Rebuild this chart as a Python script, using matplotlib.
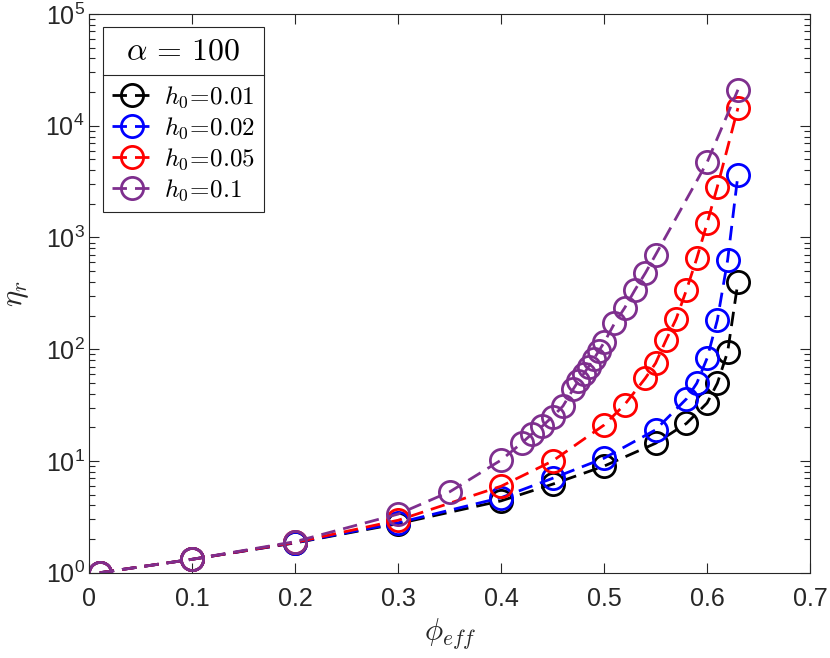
import numpy as np
import matplotlib
matplotlib.use('Agg')
import matplotlib.pyplot as plt
from matplotlib.ticker import FuncFormatter, LogLocator, NullFormatter
from matplotlib.lines import Line2D

plt.rcParams['font.family'] = ['Liberation Sans', 'DejaVu Sans']
plt.rcParams['mathtext.fontset'] = 'cm'

# h0 = 0.01
phi_001 = [0.01, 0.1, 0.2, 0.3, 0.4, 0.45, 0.5, 0.55, 0.58, 0.6, 0.61, 0.62, 0.63]
eta_001 = [1.0, 1.32, 1.85, 2.75, 4.4, 6.2, 9.0, 14.4, 21.7, 33, 49.6, 95, 400]
# h0 = 0.02
phi_002 = [0.01, 0.1, 0.2, 0.3, 0.4, 0.45, 0.5, 0.55, 0.58, 0.59, 0.6, 0.61, 0.62, 0.63]
eta_002 = [1.0, 1.32, 1.86, 2.8, 4.7, 7.0, 10.6, 19, 36, 49.6, 83, 183, 630, 3640]
# h0 = 0.05
phi_005 = [0.01, 0.1, 0.2, 0.3, 0.4, 0.45, 0.5, 0.52, 0.54, 0.55, 0.56, 0.57, 0.58,
           0.59, 0.6, 0.61, 0.63]
eta_005 = [1.0, 1.32, 1.87, 2.95, 5.95, 10.0, 21, 32, 55, 75, 120, 187, 340,
           650, 1340, 2850, 14400]
# h0 = 0.1
phi_01 = [0.01, 0.1, 0.2, 0.3, 0.35, 0.4, 0.42, 0.43, 0.44, 0.45, 0.46, 0.47, 0.475,
          0.48, 0.485, 0.49, 0.495, 0.5, 0.51, 0.52, 0.53, 0.54, 0.55, 0.6, 0.63]
eta_01 = [1.0, 1.32, 1.9, 3.35, 5.3, 10.2, 14.5, 17.5, 20.5, 25, 31, 44, 52,
          60, 70, 82, 97, 115, 170, 235, 340, 480, 700, 4700, 21000]

series = [
    (phi_001, eta_001, 'k', r'$h_0\!=\!0.01$'),
    (phi_002, eta_002, 'b', r'$h_0\!=\!0.02$'),
    (phi_005, eta_005, 'r', r'$h_0\!=\!0.05$'),
    (phi_01, eta_01, '#7E2F8E', r'$h_0\!=\!0.1$'),
]

fig = plt.figure(figsize=(8.3, 6.58), dpi=100)
ax = fig.add_axes([0.1078, 0.1296, 0.8681, 0.8491])

for phi, eta, col, lab in series:
    ax.plot(phi, eta, linestyle=(0, (5.2, 2.9)), color=col, lw=2.0,
            marker='o', ms=16, mfc='none', mec=col, mew=2.0, label=lab)

ax.set_yscale('log')
ax.set_xlim(0, 0.7)
ax.set_ylim(1, 1e5)
ax.set_xticks(np.arange(0, 0.71, 0.1))
ax.set_xticklabels(['0', '0.1', '0.2', '0.3', '0.4', '0.5', '0.6', '0.7'])
ax.yaxis.set_major_locator(LogLocator(base=10, numticks=10))
ax.yaxis.set_minor_locator(LogLocator(base=10, subs=np.arange(2, 10), numticks=20))
ax.yaxis.set_minor_formatter(NullFormatter())
ax.yaxis.set_major_formatter(FuncFormatter(lambda v, p: r'$\mathregular{10^{%d}}$' % round(np.log10(v))))

ax.tick_params(which='both', direction='in', top=True, right=True, colors='#262626',
               labelcolor='#262626', labelsize=18)
ax.tick_params(which='major', length=7, width=0.8)
ax.tick_params(which='minor', length=4, width=0.8)
ax.tick_params(axis='x', pad=10)
for s in ax.spines.values():
    s.set_color('#262626')
    s.set_linewidth(0.8)

ax.set_xlabel(r'$\phi_{eff}$', fontsize=22, color='#262626')
ax.set_ylabel(r'$\eta_r$', fontsize=22, color='#262626', labelpad=10)

leg = ax.legend(loc='upper left', bbox_to_anchor=(0.0187, 0.976), borderaxespad=0,
                title=r'$\alpha\,=\,100$', title_fontsize=23, fontsize=18,
                fancybox=False, edgecolor='#262626', framealpha=1,
                handlelength=1.6, handletextpad=0.5, labelspacing=0.22,
                borderpad=0.35)
leg.get_frame().set_linewidth(0.8)
leg._legend_box.sep = 13

# separator line under legend title
fig.canvas.draw()
r = fig.canvas.get_renderer()
fb = leg.get_frame().get_window_extent(r)
tb = leg.get_title().get_window_extent(r)
t1 = leg.get_texts()[0].get_window_extent(r)
ysep = 0.5 * (tb.y0 + t1.y1)
inv = fig.transFigure.inverted()
x0, y0 = inv.transform((fb.x0, ysep))
x1, _ = inv.transform((fb.x1, ysep))
fig.add_artist(Line2D([x0, x1], [y0, y0], color='#262626', lw=0.8, zorder=10))

fig.savefig('out.png', dpi=100)
